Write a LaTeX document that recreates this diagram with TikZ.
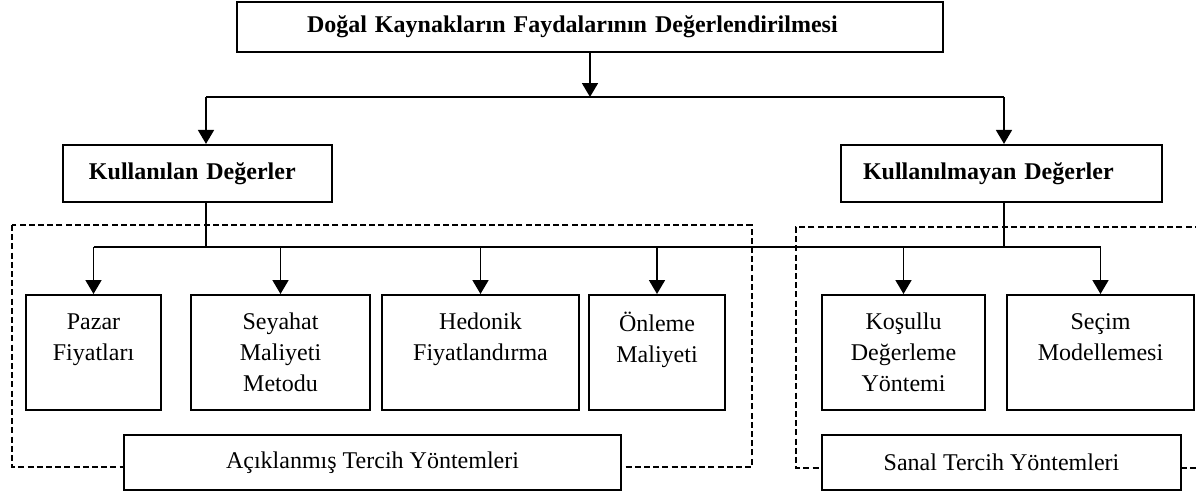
\documentclass[tikz,border=0pt]{standalone}
\usepackage{fontspec}
\setmainfont{Liberation Serif}
\usepackage{tikz}
\usetikzlibrary{arrows.meta}
\tikzset{
    tnode/.style = {align=center, inner sep=0pt},
    head_node/.style = {draw=black, line width=1.1pt, align=left, inner ysep=0pt, font=\fontsize{12}{15.5}\selectfont\bfseries},
    method_node/.style = {tnode, draw=black, line width=1.1pt, anchor=north, minimum height=57.5pt, font=\fontsize{12}{15.5}\selectfont},
    group_node/.style = {tnode, draw=black, fill=white, line width=1.1pt, minimum height=27.5pt, font=\fontsize{12}{15.5}\selectfont},
    dash_frame/.style = {line width=1.3pt, dash pattern=on 3pt off 1.6pt},
    conn/.style = {line width=0.9pt}
}
\begin{document}
\begin{tikzpicture}[x=0.5pt, y=-0.5pt, >={Triangle[width=8pt,length=7pt]}]
    \useasboundingbox (0,0) rectangle (1196,493);
    \draw[dash_frame] (12,225) rectangle (752,467);
    \draw[dash_frame] (1210,227) -- (796,227) -- (796,468) -- (1210,468);

    \node[head_node, text width=283pt, inner xsep=35pt, minimum height=25pt] (dogal) at (590,27) {Doğal Kaynakların Faydalarının Değerlendirilmesi};
    \node[head_node, text width=108.5pt, inner xsep=13pt, minimum height=28.5pt] (kullanilan) at (197.5,173.5) {Kullanılan Değerler};
    \node[head_node, text width=138.5pt, inner xsep=11pt, minimum height=28.5pt] (kullanilmayan) at (1001.5,173.5) {Kullanılmayan Değerler};

    \node[method_node, text width=67.5pt] (pazar) at (93.5,294) {Pazar\\Fiyatları\\\mbox{}};
    \node[method_node, text width=89.5pt] (seyahat) at (280.5,294) {Seyahat\\Maliyeti\\Metodu};
    \node[method_node, text width=98.5pt] (hedonik) at (480.5,294) {Hedonik\\Fiyatlandırma\\\mbox{}};
    \node[method_node, text width=68pt] (onleme) at (657,294) {Önleme\\Maliyeti\\\mbox{}};
    \node[method_node, text width=81.5pt] (kosullu) at (903.5,294) {Koşullu\\Değerleme\\Yöntemi};
    \node[method_node, text width=93.5pt] (secim) at (1100.5,294) {Seçim\\Modellemesi\\\mbox{}};

    \node[group_node, minimum width=248.5pt] (aciklanmis) at (372.5,462.5) {Açıklanmış Tercih Yöntemleri};
    \node[group_node, minimum width=179.5pt] (sanal) at (1001.5,462.5) {Sanal Tercih Yöntemleri};

    \coordinate (bus_mid) at (dogal.south |- 0,97);
    \coordinate (bus_l) at (206,97);
    \coordinate (bus_r) at (1004,97);
    \coordinate (low_l) at (206,247);
    \coordinate (low_r) at (1004,247);

    \draw[conn, ->] (dogal.south) -- (bus_mid);
    \draw[conn] (bus_l) -- (bus_r);
    \draw[conn, ->] (bus_l) -- (bus_l |- kullanilan.north);
    \draw[conn, ->] (bus_r) -- (bus_r |- kullanilmayan.north);
    \draw[conn] (kullanilan.south -| low_l) -- (low_l);
    \draw[conn] (kullanilmayan.south -| low_r) -- (low_r);
    \draw[conn] (pazar.north |- low_l) -- (secim.north |- low_l);
    \foreach \m in {pazar, seyahat, hedonik, onleme, kosullu, secim}
        \draw[conn, ->] (\m.north |- low_l) -- (\m.north);
\end{tikzpicture}
\end{document}
